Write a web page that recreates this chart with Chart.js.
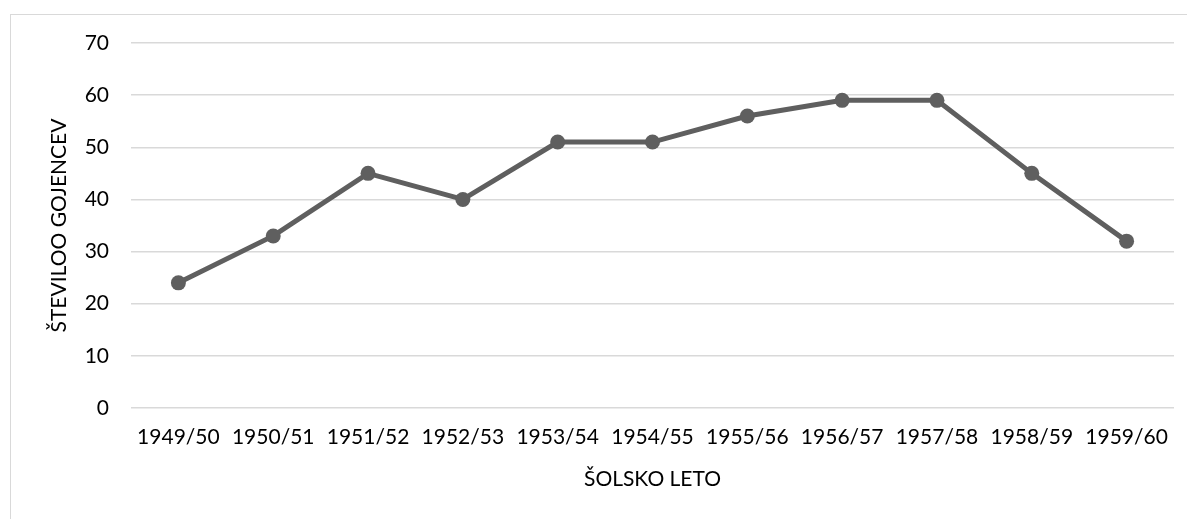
<!DOCTYPE html>
<html>
<head>
<meta charset="utf-8">
<script src="https://cdn.jsdelivr.net/npm/chart.js@4"></script>
<style>
  html, body { margin: 0; padding: 0; background: #fff; }
  #wrap { position: relative; width: 1187px; height: 519px; overflow: hidden; }
  #frame { position: absolute; left: 10px; top: 14px; width: 1200px; height: 600px; border: 1px solid #d9d9d9; }
  #myChart { position: absolute; left: 0; top: 0; }
</style>
</head>
<body>
<div id="wrap">
  <div id="frame"></div>
  <canvas id="myChart" width="1187" height="519"></canvas>
</div>
<script>
// school years and number of pupils
const years = ['1949/50', '1950/51', '1951/52', '1952/53', '1953/54', '1954/55',
  '1955/56', '1956/57', '1957/58', '1958/59', '1959/60'];
const pupils = [24, 33, 45, 40, 51, 51, 56, 59, 59, 45, 32];
const yTicks = [0, 10, 20, 30, 40, 50, 60, 70];

const fontFamily = 'Lato, "Open Sans", sans-serif';
const lineColor = '#5f5f5f';

const ctx = document.getElementById('myChart').getContext('2d');

const myChart = new Chart(ctx, {
  type: 'line',
  data: {
    labels: years,
    datasets: [{
      data: pupils,
      borderColor: lineColor,
      backgroundColor: lineColor,
      borderWidth: 5,
      pointRadius: 7.5,
      pointBorderWidth: 0,
      pointBackgroundColor: lineColor,
      tension: 0
    }]
  },
  options: {
    responsive: false,
    animation: false,
    layout: { padding: { top: 43, right: 13, bottom: 0, left: 0 } },
    plugins: {
      legend: { display: false },
      tooltip: { enabled: false }
    },
    scales: {
      x: {
        offset: true,
        grid: { display: false, drawTicks: false },
        border: { display: false },
        ticks: {
          color: '#000',
          padding: 17,
          maxRotation: 0,
          autoSkip: false,
          font: { family: fontFamily, size: 21 }
        },
        title: {
          display: true,
          text: 'ŠOLSKO LETO',
          color: '#000',
          padding: { top: 0, bottom: 27 },
          font: { family: fontFamily, size: 21 }
        },
        afterFit(scale) { scale.height = 111; }
      },
      y: {
        min: yTicks[0],
        max: yTicks[yTicks.length - 1],
        grid: { color: '#d9d9d9', lineWidth: 1.5, drawTicks: false },
        border: { display: false },
        ticks: {
          stepSize: yTicks[1] - yTicks[0],
          color: '#000',
          padding: 22,
          font: { family: fontFamily, size: 21 }
        },
        title: {
          display: true,
          text: 'ŠTEVILOO GOJENCEV',
          color: '#000',
          padding: { top: 47, bottom: 0 },
          font: { family: fontFamily, size: 21 }
        },
        afterFit(scale) { scale.width = 131; }
      }
    }
  }
});
</script>
</body>
</html>
